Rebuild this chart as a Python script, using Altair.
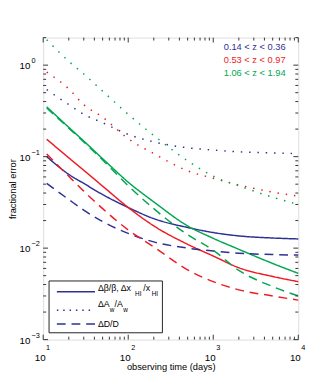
import altair as alt
import pandas as pd

FONT = "Liberation Sans"

# ---------------- data ----------------
times = [11, 20, 30, 50, 100, 200, 500, 1000, 2000, 5000, 10000]
z_bins = ["0.14 < z < 0.36", "0.53 < z < 0.97", "1.06 < z < 1.94"]
z_colors = ["#2E3192", "#ED1C24", "#00A651"]
kinds = ["beta", "aw", "d"]
legend_rows = ["Δβ/β, Δx_HI/x_HI", "ΔA_w/A_w", "ΔD/D"]

# Δβ/β, Δx_HI/x_HI  (solid)
beta_low = [0.1, 0.064, 0.051, 0.0385, 0.0278, 0.021, 0.0168, 0.0148, 0.0136, 0.0129, 0.0126]
beta_mid = [0.155, 0.097, 0.071, 0.0476, 0.0278, 0.0175, 0.011, 0.0082, 0.0061, 0.0049, 0.0043]
beta_high = [0.35, 0.209, 0.148, 0.095, 0.0526, 0.032, 0.0175, 0.0128, 0.0097, 0.0068, 0.0053]
# ΔA_w/A_w  (dotted)
aw_low = [0.54, 0.37, 0.29, 0.235, 0.175, 0.145, 0.125, 0.118, 0.113, 0.11, 0.108]
aw_mid = [0.84, 0.55, 0.37, 0.27, 0.157, 0.108, 0.07, 0.058, 0.049, 0.041, 0.037]
aw_high = [1.9, 1.1, 0.8, 0.52, 0.29, 0.17, 0.09, 0.061, 0.048, 0.036, 0.030]
# ΔD/D  (dashed)
d_low = [0.051, 0.034, 0.026, 0.0195, 0.0145, 0.0117, 0.01, 0.0093, 0.0088, 0.0085, 0.0084]
d_mid = [0.107, 0.061, 0.042, 0.027, 0.0158, 0.0103, 0.0058, 0.0043, 0.0035, 0.003, 0.0027]
d_high = [0.34, 0.205, 0.145, 0.092, 0.048, 0.027, 0.014, 0.0095, 0.0057, 0.0038, 0.003]

x_major = [10, 100, 1000, 10000]
x_exp = ["1", "2", "3", "4"]
y_major = [0.001, 0.01, 0.1, 1]
y_exp = ["−3", "−2", "−1", "0"]

# ---------------- build table ----------------
series = {
    ("beta", 0): beta_low, ("beta", 1): beta_mid, ("beta", 2): beta_high,
    ("aw", 0): aw_low, ("aw", 1): aw_mid, ("aw", 2): aw_high,
    ("d", 0): d_low, ("d", 1): d_mid, ("d", 2): d_high,
}
rows = []
for (kind, zi), vals in series.items():
    for t, v in zip(times, vals):
        rows.append({"t": t, "v": v, "z": z_bins[zi], "kind": kind, "grp": f"{kind}{zi}"})
df = pd.DataFrame(rows)

W, H = 261, 309
xscale = alt.Scale(type="log", domain=[10, 10000], nice=False)
yscale = alt.Scale(type="log", domain=[0.001, 2], nice=False)

lines = alt.Chart(df).mark_line(strokeWidth=1.5, interpolate="monotone", strokeCap="butt").encode(
    x=alt.X("t:Q", scale=xscale,
            axis=alt.Axis(labels=False, ticks=False, domain=False, grid=False,
                          title="observing time (days)", titleFontSize=9.5, titleFont=FONT,
                          titleFontWeight="normal", titlePadding=23, titleColor="black")),
    y=alt.Y("v:Q", scale=yscale,
            axis=alt.Axis(labels=False, ticks=False, domain=False, grid=False,
                          title="fractional error", titleFontSize=9.5, titleFont=FONT,
                          titleFontWeight="normal", titlePadding=26, titleColor="black")),
    color=alt.Color("z:N", scale=alt.Scale(domain=z_bins, range=z_colors), legend=None),
    strokeDash=alt.StrokeDash("kind:N", scale=alt.Scale(domain=kinds, range=[[1, 0], [1.5, 7], [9, 6]]), legend=None),
    detail="grp:N",
)

# ---------------- inward ticks ----------------
x_minor = [m * 10 ** k for k in range(1, 4) for m in range(2, 10)]
y_minor = [m * 10.0 ** k for k in range(-3, 1) for m in range(2, 10) if m * 10.0 ** k <= 2]

def xticks(vals, length):
    d = pd.DataFrame({"t": vals})
    base = alt.Chart(d).mark_rule(color="#333", strokeWidth=1)
    bot = base.encode(x=alt.X("t:Q", scale=xscale), y=alt.value(H), y2=alt.value(H - length))
    top = base.encode(x=alt.X("t:Q", scale=xscale), y=alt.value(0), y2=alt.value(length))
    return bot + top

def yticks(vals, length):
    d = pd.DataFrame({"v": vals})
    base = alt.Chart(d).mark_rule(color="#333", strokeWidth=1)
    left = base.encode(y=alt.Y("v:Q", scale=yscale), x=alt.value(0), x2=alt.value(length))
    right = base.encode(y=alt.Y("v:Q", scale=yscale), x=alt.value(W), x2=alt.value(W - length))
    return left + right

ticks = xticks(x_major, 5) + xticks(x_minor, 3) + yticks(y_major, 5) + yticks(y_minor, 3)

# ---------------- tick labels (10 with superscript exponent) ----------------
xl = pd.DataFrame({"t": x_major, "e": x_exp})
x_ten = alt.Chart(xl).mark_text(fontSize=10, font=FONT, align="center", baseline="middle", dx=-3).encode(
    x=alt.X("t:Q", scale=xscale), y=alt.value(H + 18.5), text=alt.value("10"))
x_e = alt.Chart(xl).mark_text(fontSize=7.5, font=FONT, align="left", baseline="middle", dx=3).encode(
    x=alt.X("t:Q", scale=xscale), y=alt.value(H + 9), text="e:N")

yl = pd.DataFrame({"v": y_major, "e": y_exp})
y_ten = alt.Chart(yl).mark_text(fontSize=10, font=FONT, align="right", baseline="middle", dx=-13, dy=1).encode(
    y=alt.Y("v:Q", scale=yscale), x=alt.value(0), text=alt.value("10"))
y_e = alt.Chart(yl).mark_text(fontSize=7.5, font=FONT, align="left", baseline="middle", dx=-12, dy=-4).encode(
    y=alt.Y("v:Q", scale=yscale), x=alt.value(0), text="e:N")

# ---------------- helpers for placed text ----------------
one = pd.DataFrame({"a": [0]})

def txt(text, x, y, size=9, color="black", align="left"):
    return alt.Chart(one).mark_text(align=align, baseline="middle", fontSize=size, font=FONT, color=color).encode(
        x=alt.value(x), y=alt.value(y), text=alt.value(text))

# redshift annotations
annots = txt(z_bins[0], 248, 10, 9.5, z_colors[0], "right") + \
         txt(z_bins[1], 248, 23, 9.5, z_colors[1], "right") + \
         txt(z_bins[2], 248, 36, 9.5, z_colors[2], "right")

# ---------------- legend box ----------------
box = alt.Chart(one).mark_rect(fill="white", stroke="#222", strokeWidth=1).encode(
    x=alt.value(6), x2=alt.value(122), y=alt.value(249), y2=alt.value(302))

def leg_line(y, dash):
    return alt.Chart(one).mark_rule(color=z_colors[0], strokeWidth=1.5, strokeDash=dash, strokeCap="butt").encode(
        x=alt.value(14), x2=alt.value(53), y=alt.value(y))

leg = box + leg_line(260, [1, 0]) + leg_line(279, [1.5, 5]) + leg_line(293, [9, 6])
leg = leg + txt("Δβ/β, Δx", 56, 256, 9) + txt("HI", 94, 262, 6.5) + txt("/x", 102.5, 256, 9) + txt("HI", 111, 262, 6.5)
leg = leg + txt("ΔA", 56, 273, 9) + txt("w", 68, 279, 6.5) + txt("/A", 73, 273, 9) + txt("w", 82, 279, 6.5)
leg = leg + txt("ΔD/D", 56, 293, 9)

chart = alt.layer(lines, ticks, x_ten, x_e, y_ten, y_e, annots, leg).properties(
    width=W, height=H,
    autosize=alt.AutoSizeParams(type="none"),
    padding={"left": 36, "top": 26, "right": 12, "bottom": 36},
).configure_view(stroke="#333", strokeWidth=1).configure(background="white")

chart.save("out.html", embed_options={"renderer": "svg", "actions": False})
